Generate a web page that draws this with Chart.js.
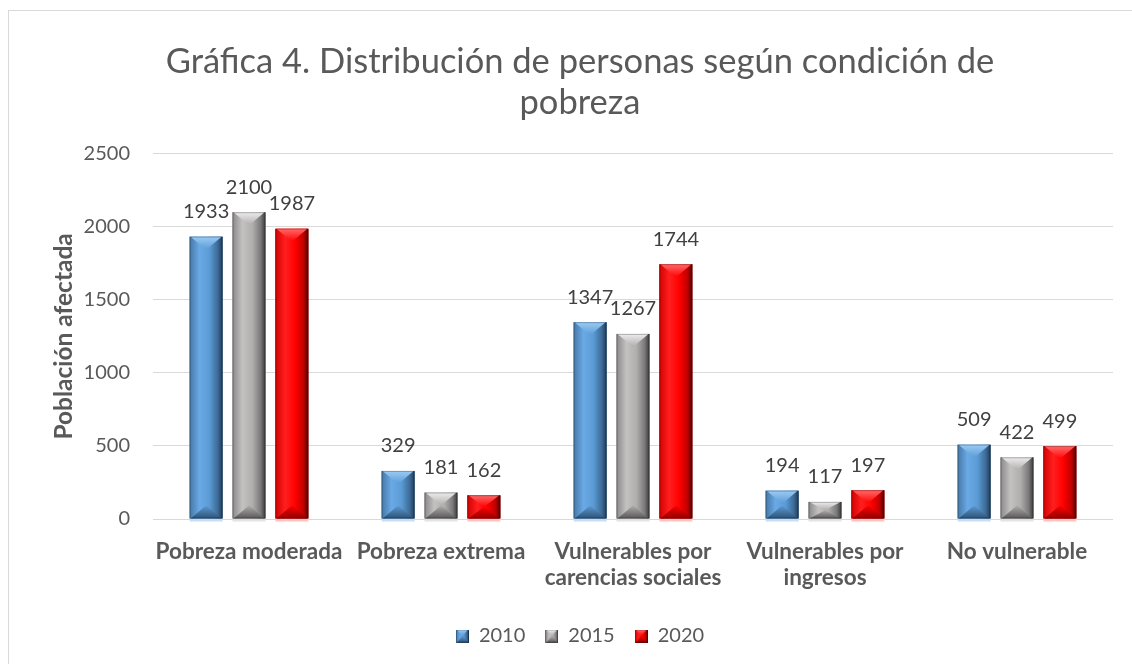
<!DOCTYPE html>
<html>
<head>
<meta charset="utf-8">
<script src="https://cdn.jsdelivr.net/npm/chart.js@4"></script>
<style>
  html, body { margin: 0; padding: 0; background: #fff; overflow: hidden; }
  #frame { position: absolute; left: 8px; top: 10px; width: 1160px; height: 690px; border: 1px solid #d9d9d9; }
  #chart { position: absolute; left: 0; top: 0; }
</style>
</head>
<body>
<div id="frame"><canvas id="chart" width="1124" height="653"></canvas></div>
<script>
const categories = ['Pobreza moderada', 'Pobreza extrema', ['Vulnerables por', 'carencias sociales'], ['Vulnerables por', 'ingresos'], 'No vulnerable'];
const years = ['2010', '2015', '2020'];
const values2010 = [1933, 329, 1347, 194, 509];
const values2015 = [2100, 181, 1267, 117, 422];
const values2020 = [1987, 162, 1744, 197, 499];
const yMin = 0, yMax = 2500, yStep = 500;

// shading for the bevelled bars (face gradient left->right, top and bottom facets)
const shades = [
  { face: ['#4677a6', '#6aa9e6', '#5b9bd5', '#3d6b97', '#1f3a55'], top: '#9ccbf5', bottom: '#2f5274', base: '#5b9bd5', glow: '#c9def2' },
  { face: ['#8a8888', '#c4c1c1', '#b1aeae', '#7c7a7a', '#3a3a3a'], top: '#eeeded', bottom: '#5a5959', base: '#afacac', glow: '#e4e4e4' },
  { face: ['#d40000', '#ff1f1f', '#ff0000', '#bf0000', '#520000'], top: '#ff6a6a', bottom: '#8f0000', base: '#ff0000', glow: '#ffc4c4' }
];

function drawBevel(ctx, L, T, R, B, s) {
  const w = R - L, h = B - T;
  if (h <= 0) return;
  const cx = (L + R) / 2;
  const d = Math.min(13, h / 2);
  ctx.save();
  const g = ctx.createLinearGradient(L, 0, R, 0);
  g.addColorStop(0, s.face[0]);
  g.addColorStop(0.3, s.face[1]);
  g.addColorStop(0.6, s.face[2]);
  g.addColorStop(0.85, s.face[3]);
  g.addColorStop(1, s.face[4]);
  ctx.fillStyle = g;
  ctx.fillRect(L, T, w, h);
  // top facet
  const gt = ctx.createLinearGradient(0, T, 0, T + d);
  gt.addColorStop(0, s.top);
  gt.addColorStop(1, s.base);
  ctx.fillStyle = gt;
  ctx.beginPath();
  ctx.moveTo(L + 1, T); ctx.lineTo(R - 1, T); ctx.lineTo(cx, T + d); ctx.closePath();
  ctx.fill();
  // bottom facet
  const gb = ctx.createLinearGradient(0, B - d, 0, B);
  gb.addColorStop(0, s.base);
  gb.addColorStop(1, s.bottom);
  ctx.fillStyle = gb;
  ctx.beginPath();
  ctx.moveTo(L + 1, B); ctx.lineTo(R - 1, B); ctx.lineTo(cx, B - d); ctx.closePath();
  ctx.fill();
  // edge
  ctx.strokeStyle = 'rgba(0,0,0,0.25)';
  ctx.lineWidth = 1;
  ctx.strokeRect(L + 0.5, T + 0.5, w - 1, h - 1);
  // faint reflection under the base
  ctx.fillStyle = s.glow;
  ctx.fillRect(L, B + 1, w, 2);
  ctx.restore();
}

function legendMarker(s) {
  const c = document.createElement('canvas');
  c.width = 13; c.height = 13;
  drawBevel(c.getContext('2d'), 0, 0, 13, 13, Object.assign({}, s, { glow: 'rgba(0,0,0,0)' }));
  return c;
}

const barStyle = {
  id: 'barStyle',
  afterDatasetsDraw(chart) {
    const ctx = chart.ctx;
    chart.data.datasets.forEach((ds, i) => {
      const meta = chart.getDatasetMeta(i);
      meta.data.forEach((bar, j) => {
        const p = bar.getProps(['x', 'y', 'base', 'width'], true);
        drawBevel(ctx, p.x - p.width / 2, p.y, p.x + p.width / 2, p.base, shades[i]);
      });
    });
    ctx.save();
    ctx.font = '20px Lato';
    ctx.fillStyle = '#404040';
    ctx.textAlign = 'center';
    ctx.textBaseline = 'middle';
    chart.data.datasets.forEach((ds, i) => {
      chart.getDatasetMeta(i).data.forEach((bar, j) => {
        ctx.fillText(String(ds.data[j]), bar.x, bar.y - 25);
      });
    });
    ctx.restore();
  }
};

const seriesValues = [values2010, values2015, values2020];

new Chart(document.getElementById('chart'), {
  type: 'bar',
  data: {
    labels: categories,
    datasets: years.map((y, i) => ({
      label: y,
      data: seriesValues[i],
      backgroundColor: shades[i].base,
      borderWidth: 0,
      pointStyle: legendMarker(shades[i]),
      categoryPercentage: 0.67,
      barPercentage: 0.77
    }))
  },
  options: {
    responsive: false,
    animation: false,
    layout: { padding: { left: 38, right: 20, top: 0, bottom: 8 } },
    plugins: {
      title: {
        display: true,
        text: ['Gráfica 4. Distribución de personas según condición de', 'pobreza'],
        color: '#595959',
        font: { family: 'Lato', size: 34.5, weight: 'normal', lineHeight: 1.2 },
        padding: { top: 30, bottom: 30 }
      },
      legend: {
        position: 'bottom',
        labels: {
          usePointStyle: true,
          boxWidth: 13,
          boxHeight: 13,
          padding: 20,
          color: '#595959',
          font: { family: 'Lato', size: 20 }
        }
      },
      tooltip: { enabled: false }
    },
    scales: {
      x: {
        grid: { display: false, drawTicks: false },
        border: { display: false },
        ticks: {
          color: '#595959',
          padding: 20,
          maxRotation: 0,
          autoSkip: false,
          font: { family: 'Lato', size: 22.5, weight: 'bold', lineHeight: 1.15 }
        },
        afterFit(scale) { scale.height = 87; }
      },
      y: {
        min: yMin,
        max: yMax,
        grid: { color: '#d9d9d9', drawTicks: false },
        border: { display: false },
        ticks: {
          stepSize: yStep,
          color: '#595959',
          padding: 23,
          font: { family: 'Lato', size: 20 },
          callback: v => String(v)
        },
        title: {
          display: true,
          text: 'Población afectada',
          color: '#595959',
          padding: { top: 2, bottom: 0 },
          font: { family: 'Lato', size: 24.5, weight: 'bold', lineHeight: 1.2 }
        },
        afterFit(scale) { scale.width = 106; }
      }
    }
  },
  plugins: [barStyle]
});
</script>
</body>
</html>
